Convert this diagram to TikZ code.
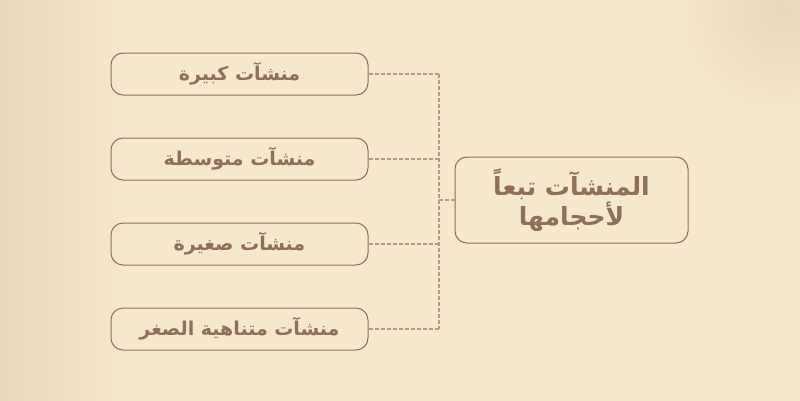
\documentclass[tikz,border=0pt]{standalone}
\usepackage{fontspec}
\usepackage{tikz}
\usetikzlibrary{calc}
\usetikzlibrary{positioning}
\newfontfamily\arabicfont[Script=Arabic]{DejaVu Sans}
\TeXXeTstate=1
\definecolor{paper}{HTML}{F7E7CF}
\definecolor{shadow}{HTML}{E9D7BB}
\definecolor{brownline}{HTML}{8F6E5A}
\definecolor{dashline}{HTML}{B49A87}

\begin{document}
\begin{tikzpicture}[x=1pt, y=-1pt]

        \def\g{42pt}

        % Styles of the boxes and of the dashed links
        \tikzset{
            sizebox/.style={draw=brownline, line width=1pt, rounded corners=12pt,
                minimum width=257pt, minimum height=42pt, inner sep=0pt,
                text=brownline, font=\arabicfont\bfseries\fontsize{19}{22}\selectfont},
            mainbox/.style={sizebox, minimum width=233pt, minimum height=86pt,
                align=center, font=\arabicfont\bfseries\fontsize{25}{30}\selectfont},
            link/.style={draw=dashline, line width=1.2pt, dash pattern=on 4pt off 2pt}
        }

        % Background
        \useasboundingbox (0,0) rectangle (800,400);
        \fill[paper] (-2,-2) rectangle (802,402);
        \shade[left color=shadow, right color=paper] (-2,-2) rectangle (130,402);
        \shade[inner color=shadow, outer color=paper] (780,10) circle (110);

        \begin{scope}
            \node[sizebox] (S1) at (239.5, 74)
            {\beginR منشآت كبيرة\endR};
            \node[sizebox] (S2) [below=\g of S1]
            {\beginR منشآت متوسطة\endR};
            \node[sizebox] (S3) [below=\g of S2]
            {\beginR منشآت صغيرة\endR};
            \node[sizebox] (S4) [below=\g of S3]
            {\beginR منشآت متناهية الصغر\endR};

            \node[mainbox] (Top) at (571.5, 200)
            {\beginR المنشآت تبعاً\endR\\ \beginR لأحجامها\endR};

            \coordinate (J) at (439, 200);
        \end{scope}

        \begin{scope}[link]
            \foreach\x in {1,...,4}
            \draw (S\x.east) -- (S\x.east -| J);
            \draw (S1.east -| J) -- (S4.east -| J);
            \draw (J) -- (Top.west);
        \end{scope}

\end{tikzpicture}
\end{document}
